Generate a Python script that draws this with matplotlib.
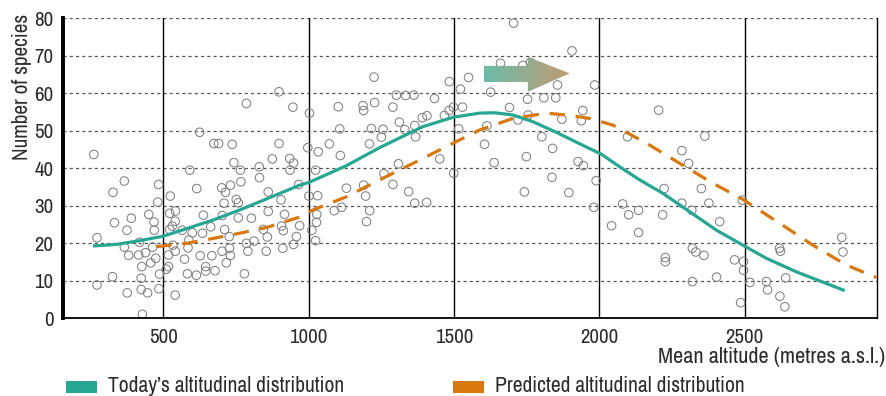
import numpy as np
import matplotlib
matplotlib.use("Agg")
import matplotlib.pyplot as plt
from matplotlib.patches import Polygon, Rectangle

plt.rcParams['font.family'] = ['Archivo Narrow', 'DejaVu Sans']

# scatter: mean altitude (m) and number of species
alt = [261, 272, 272, 327, 325, 332, 366, 375, 366, 381, 376, 390, 415, 418, 426, 424, 424, 428,
       439, 446, 450, 457, 468, 469, 463, 474, 484, 481, 487, 485, 510, 518, 518, 522, 522, 524,
       533, 541, 531, 542, 541, 541, 565, 573, 583, 585, 591, 588, 600, 615, 614, 627, 625, 638,
       635, 646, 646, 663, 667, 674, 690, 678, 701, 714, 703, 709, 702, 711, 717, 727, 731, 737,
       743, 728, 751, 758, 758, 765, 767, 786, 786, 791, 779, 803, 812, 830, 831, 844, 854, 858,
       861, 861, 875, 898, 898, 905, 907, 913, 917, 911, 935, 948, 936, 946, 948, 958, 966, 969,
       731, 997, 1003, 1001, 1011, 1024, 1033, 1031, 1028, 1027, 1024, 1071, 1088, 1102, 1107,
       1109, 1113, 1130, 1187, 1189, 1189, 1196, 1199, 1210, 1209, 1216, 1225, 1227, 1250, 1256,
       1259, 1290, 1290, 1302, 1309, 1312, 1331, 1334, 1344, 1362, 1365, 1368, 1365, 1391, 1407,
       1406, 1433, 1451, 1467, 1484, 1483, 1498, 1516, 1522, 1529, 1499, 1550, 1605, 1613, 1626,
       1638, 1660, 1691, 1705, 1720, 1737, 1763, 1742, 1749, 1755, 1753, 1802, 1809, 1837, 1839,
       1850, 1856, 1871, 1895, 1906, 1927, 1938, 1943, 1945, 1984, 1989, 1981, 2042, 2080, 2097,
       2101, 2135, 2135, 2204, 2223, 2218, 2227, 2227, 2284, 2307, 2284, 2318, 2351, 2363, 2377,
       2320, 2332, 2320, 2360, 2414, 2403, 2465, 2492, 2496, 2496, 2486, 2518, 2575, 2579, 2620,
       2623, 2641, 2621, 2638, 2834, 2838]
species = [43.7, 21.5, 8.9, 33.6, 11.1, 25.5, 36.6, 23.5, 19.0, 16.8, 6.8, 26.7, 16.9, 20.3, 13.8,
           10.7, 7.7, 1.1, 17.5, 6.8, 27.7, 14.8, 25.7, 23.5, 19.0, 16.0, 35.7, 31.0, 11.8, 7.9,
           13.1, 13.8, 16.9, 23.7, 28.0, 32.6, 19.5, 25.9, 24.6, 28.6, 6.2, 17.9, 23.5, 15.8, 11.9,
           18.8, 39.5, 20.9, 22.8, 34.6, 11.5, 16.7, 49.6, 27.5, 22.7, 12.6, 13.8, 24.4, 16.7, 46.6,
           46.6, 12.7, 34.8, 33.6, 27.4, 30.7, 17.9, 23.7, 14.8, 21.8, 35.5, 46.4, 41.5, 18.7, 31.7,
           30.8, 26.8, 39.5, 36.4, 57.3, 20.0, 17.9, 11.9, 26.7, 20.6, 40.4, 37.5, 23.7, 17.9, 21.7,
           33.7, 28.5, 42.5, 60.4, 46.6, 31.6, 24.6, 23.4, 27.7, 18.7, 42.6, 41.4, 39.5, 56.3, 19.7,
           21.8, 35.7, 24.7, 16.8, 45.5, 54.7, 32.6, 23.5, 39.5, 44.4, 32.7, 27.7, 25.6, 20.7, 46.5,
           28.7, 56.4, 50.5, 43.4, 29.6, 34.7, 56.7, 55.4, 35.5, 32.6, 25.8, 28.7, 46.5, 50.6, 64.3,
           57.5, 48.3, 50.4, 38.6, 56.3, 35.7, 59.5, 41.2, 52.3, 50.3, 59.4, 33.8, 59.5, 51.4, 48.4,
           30.7, 53.5, 54.0, 30.9, 58.6, 42.5, 54.1, 63.1, 55.4, 56.3, 50.5, 61.1, 56.3, 38.7, 64.2,
           46.4, 51.3, 60.3, 41.5, 68.0, 56.2, 78.7, 52.9, 67.4, 68.2, 33.7, 43.1, 54.2, 58.4, 48.4,
           58.8, 37.6, 45.3, 58.8, 62.2, 53.1, 33.5, 71.3, 41.8, 52.7, 55.4, 40.7, 62.2, 36.7, 29.6,
           24.7, 30.5, 48.4, 27.6, 28.8, 22.9, 55.5, 34.6, 27.6, 16.2, 15.1, 44.7, 41.3, 30.7, 28.8,
           34.6, 48.6, 30.7, 18.7, 17.7, 9.8, 16.8, 25.8, 11.0, 15.6, 31.5, 15.2, 12.8, 4.2, 9.6,
           9.8, 7.6, 18.7, 17.9, 10.8, 5.9, 3.1, 21.6, 17.7]

# today's altitudinal distribution (fitted curve)
today_alt = [258, 338, 418, 500, 579, 671, 763, 854, 969, 1000, 1130, 1244, 1393, 1497, 1588, 1640,
             1703, 1772, 1852, 1933, 2006, 2070, 2139, 2219, 2311, 2403, 2494, 2575, 2678, 2844]
today_sp = [19.3, 19.7, 20.7, 21.9, 23.9, 26.2, 28.9, 31.8, 35.5, 36.2, 40.7, 45.5, 51.1, 53.6, 54.7,
            54.8, 54.2, 52.4, 49.6, 46.5, 43.8, 40.4, 36.9, 33.3, 28.4, 23.5, 19.5, 16.0, 12.4, 7.4]

# predicted altitudinal distribution
pred_alt = [476, 579, 671, 763, 854, 969, 1015, 1130, 1244, 1382, 1497, 1588, 1703, 1818, 1887,
            1967, 2047, 2162, 2277, 2391, 2494, 2621, 2735, 2850, 2953]
pred_sp = [19.1, 20.0, 21.3, 22.7, 24.2, 27.0, 28.9, 32.4, 36.9, 42.2, 46.7, 50.2, 53.3, 54.7, 54.2,
           53.3, 51.5, 46.7, 41.3, 36.0, 31.7, 25.3, 19.5, 14.2, 10.9]

x_ticks = [500, 1000, 1500, 2000, 2500]
y_ticks = [0, 10, 20, 30, 40, 50, 60, 70, 80]
legend_labels = ["Today\u2019s altitudinal distribution", "Predicted altitudinal distribution"]

teal = '#27a791'
orange = '#d8780f'
txt = '#2b2b2b'

fig = plt.figure(figsize=(8.86, 3.96), dpi=100)
ax = fig.add_axes([0.0711, 0.196, 0.9187, 0.758])

# grid
for v in y_ticks[1:]:
    ax.axhline(v, color='#555555', lw=0.9, dashes=(2.5, 2.5), zorder=1)
for v in x_ticks:
    ax.axvline(v, color='black', lw=1.0, zorder=1)

ax.scatter(alt, species, s=38, facecolors='none', edgecolors='#808080', linewidths=0.75, zorder=2)
ax.plot(today_alt, today_sp, color=teal, lw=2.3, zorder=3, solid_capstyle='butt')
ax.plot(pred_alt, pred_sp, color=orange, lw=2.3, dashes=(4.8, 3.4), zorder=3)

# shift arrow with gradient
arr_x0, arr_xh, arr_x1 = 1603, 1754, 1898
arr_yb0, arr_yb1, arr_yh0, arr_yh1, arr_ym = 63.0, 67.3, 60.4, 69.7, 65.3
grad = np.linspace(0, 1, 256)
c0 = np.array([108, 187, 168]) / 255
c1 = np.array([192, 155, 118]) / 255
img = (c0[None, :] * (1 - grad[:, None]) + c1[None, :] * grad[:, None])[None, :, :]
im = ax.imshow(img, extent=[arr_x0, arr_x1, arr_yh0, arr_yh1], aspect='auto', zorder=4,
               interpolation='bilinear')
poly = Polygon([(arr_x0, arr_yb0), (arr_xh, arr_yb0), (arr_xh, arr_yh0), (arr_x1, arr_ym),
                (arr_xh, arr_yh1), (arr_xh, arr_yb1), (arr_x0, arr_yb1)],
               closed=True, transform=ax.transData, facecolor='none', edgecolor='none')
ax.add_patch(poly)
im.set_clip_path(poly)

ax.set_xlim(155, 2955)
ax.set_ylim(0, 80)
ax.set_xticks(x_ticks)
ax.set_yticks(y_ticks)
ax.tick_params(length=0, labelsize=15, colors=txt, pad=7)
ax.spines['top'].set_visible(False)
ax.spines['left'].set_linewidth(2.8)
ax.spines['bottom'].set_linewidth(1.3)
ax.spines['right'].set_linewidth(1.0)

fig.text(0.999, 1 - 357 / 396, "Mean altitude (metres a.s.l.)", ha='right', va='center',
         fontsize=16, color=txt)
fig.text(22 / 886, 1 - 14 / 396, "Number of species", rotation=90, ha='center', va='top',
         fontsize=15.3, color=txt)

# legend
for i, (lab, col) in enumerate(zip(legend_labels, [teal, orange])):
    x0 = [66, 453][i] / 886
    fig.patches.append(Rectangle((x0, 1 - 393 / 396), 31 / 886, 12 / 396, transform=fig.transFigure,
                                 facecolor=col, edgecolor='none'))
    fig.text(x0 + 42 / 886, 1 - 386 / 396, lab, ha='left', va='center', fontsize=15.5, color=txt)

fig.savefig('out.png', dpi=100)
